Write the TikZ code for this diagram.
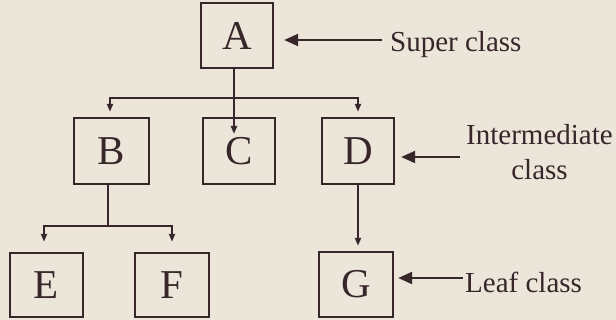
\documentclass[tikz,border=0pt]{standalone}
\usepackage{fontspec}
\setmainfont{Liberation Serif}
\usetikzlibrary{arrows.meta,calc}
\definecolor{ink}{RGB}{55,38,42}
\definecolor{paper}{RGB}{236,229,217}
\begin{document}
\begin{tikzpicture}[x=1pt,y=-1pt,
  box/.style={draw=ink,line width=2.4pt,inner sep=0pt,text=ink,
    font=\fontsize{41}{41}\selectfont},
  lbl/.style={inner sep=0pt,text=ink,font=\fontsize{29}{35}\selectfont},
  conn/.style={draw=ink,line width=2pt},
  small/.style={-{Triangle[length=8pt,width=6pt]}},
  smallboth/.style={{Triangle[length=8pt,width=6pt]}-{Triangle[length=8pt,width=6pt]}},
  big/.style={draw=ink,line width=2.2pt,-{Triangle[length=14pt,width=12pt]}}]
\fill[paper] (0,0) rectangle (616,320);
\useasboundingbox (0,0) rectangle (616,320);
% boxes
\node[box,minimum width=72pt,minimum height=65pt] (A) at (237,35.5) {A};
\node[box,minimum width=75pt,minimum height=66pt] (B) at (111.5,151) {B};
\node[box,minimum width=72pt,minimum height=66pt] (C) at (239,151) {C};
\node[box,minimum width=72pt,minimum height=66pt] (D) at (358,151) {D};
\node[box,minimum width=73pt,minimum height=64pt] (E) at (46.5,285) {E};
\node[box,minimum width=74pt,minimum height=64pt] (F) at (172,285) {F};
\node[box,minimum width=74pt,minimum height=65pt] (G) at (356,284.5) {G};
% labels
\node[lbl,anchor=base west] (sup) at (390,52) {Super class};
\node[lbl,align=center,anchor=center] (inter) at (539.5,152) {Intermediate\\class};
\node[lbl,anchor=base west] (leaf) at (465,293) {Leaf class};
% junctions and arrow starts
\coordinate (J) at (234,98);
\coordinate (cTip) at (234,134);
\coordinate (K) at (108,226);
\coordinate (supS) at (382,40);
\coordinate (interS) at (460,157);
\coordinate (leafS) at (463,278);
% connectors
\draw[conn,small] (A.south -| J) -- (cTip);
\draw[conn,smallboth] ([yshift=5pt]B.north -| 110,0) |- (J) -| ([yshift=5pt]D.north);
\draw[conn] (B.south -| K) -- (K);
\draw[conn,smallboth] ([yshift=10pt]E.north -| 44,0) |- (K) -| ([yshift=10pt]F.north);
\draw[conn,small] (D.south) -- ([yshift=5pt]D.south |- G.north);
% label arrows
\draw[big] (supS) -- ([xshift=10pt]A.east |- supS);
\draw[big] (interS) -- ([xshift=6pt]D.east |- interS);
\draw[big] (leafS) -- ([xshift=4pt]G.east |- leafS);
\end{tikzpicture}
\end{document}
